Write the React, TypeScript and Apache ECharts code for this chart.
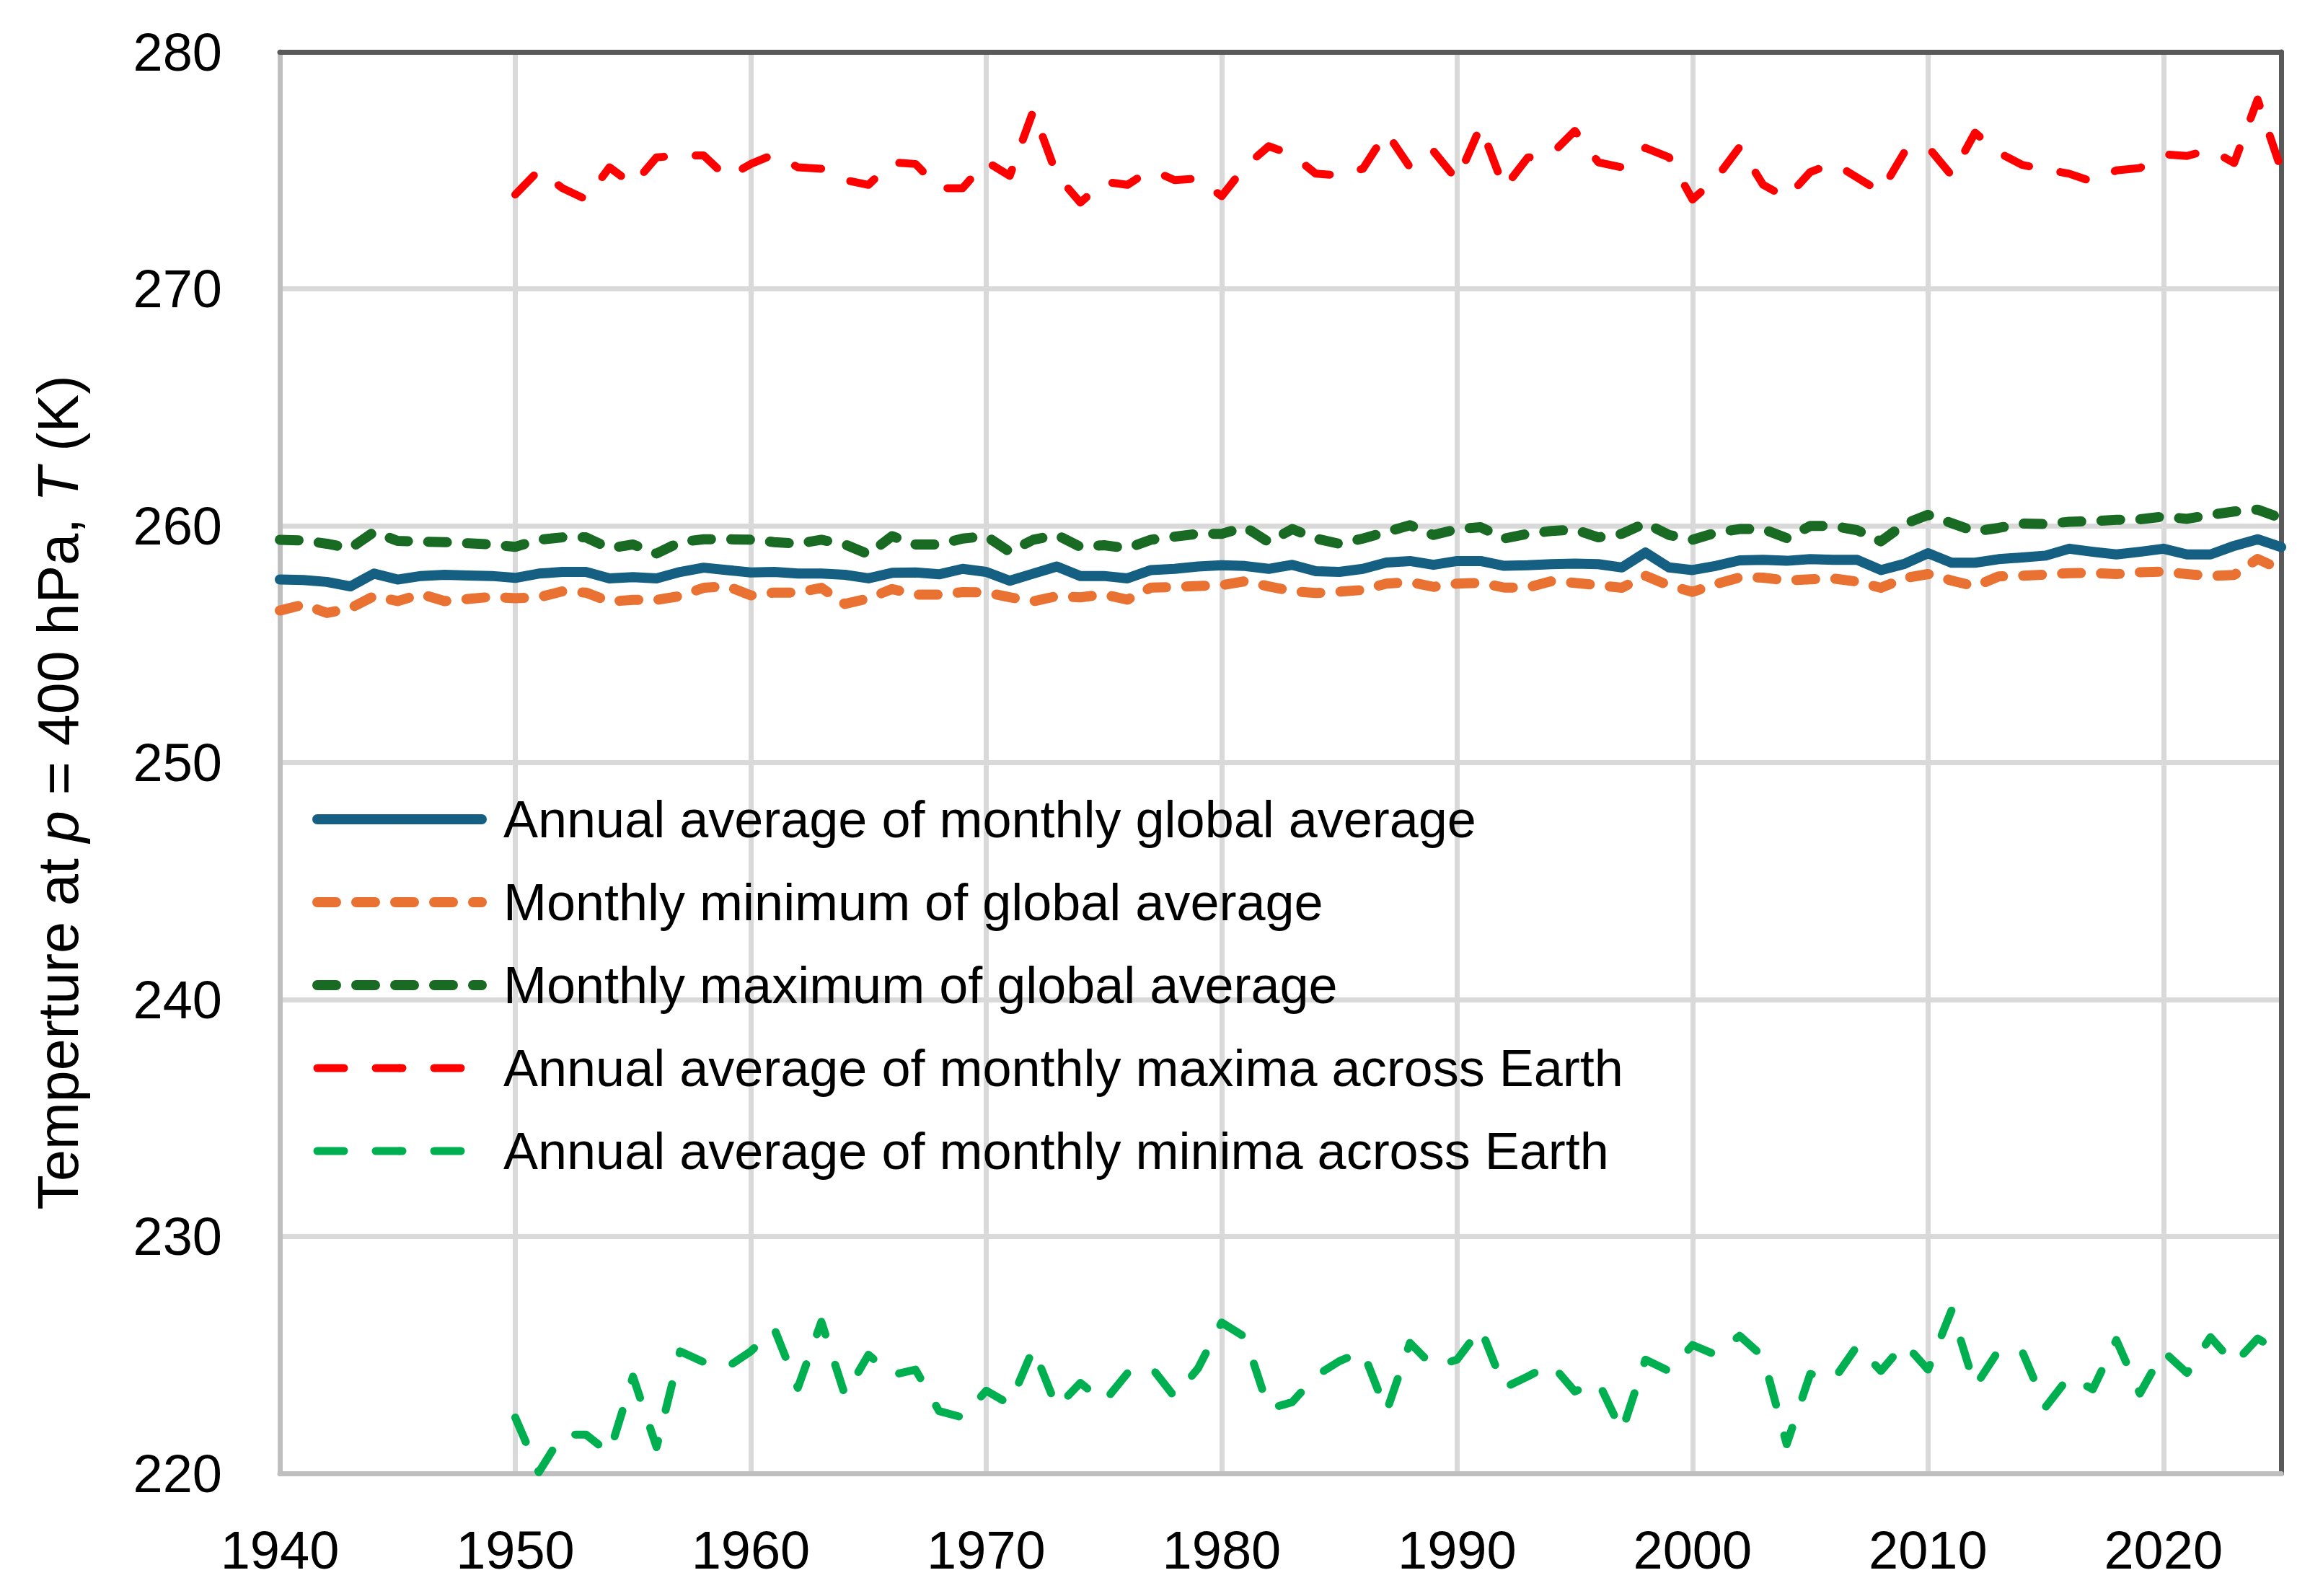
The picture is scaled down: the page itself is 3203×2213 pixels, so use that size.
import React, { useEffect, useRef } from "react";
import * as echarts from "echarts";

// Years covered by each group of series
const FIRST_YEAR_GLOBAL = 1940;
const FIRST_YEAR_EARTH = 1950;

// Annual average of monthly global average (K)
const globalAverage = [
  257.73, 257.71, 257.63, 257.44, 257.98, 257.73, 257.88, 257.93, 257.9, 257.88,
  257.8, 257.98, 258.05, 258.05, 257.78, 257.83, 257.78, 258.05, 258.23, 258.13,
  258.03, 258.05, 257.98, 257.98, 257.93, 257.78, 258.01, 258.03, 257.95, 258.18,
  258.05, 257.68, 257.98, 258.28, 257.88, 257.88, 257.78, 258.13, 258.18, 258.28,
  258.33, 258.3, 258.18, 258.35, 258.08, 258.05, 258.18, 258.45, 258.51, 258.35,
  258.51, 258.51, 258.31, 258.33, 258.38, 258.4, 258.38, 258.24, 258.87, 258.24,
  258.13, 258.31, 258.54, 258.56, 258.52, 258.59, 258.56, 258.56, 258.13, 258.39,
  258.84, 258.44, 258.44, 258.59, 258.66, 258.74, 259.03, 258.9, 258.79, 258.9,
  259.03, 258.79, 258.79, 259.15, 259.43, 259.1,
];

// Monthly minimum of global average (K)
const monthlyMinimum = [
  256.42, 256.67, 256.32, 256.52, 257.03, 256.82, 257.11, 256.82, 256.91, 257.0,
  256.94, 256.98, 257.23, 257.18, 256.8, 256.87, 256.87, 257.03, 257.38, 257.45,
  257.06, 257.18, 257.18, 257.38, 256.7, 256.93, 257.33, 257.09, 257.09, 257.2,
  257.18, 256.98, 256.81, 257.03, 256.98, 257.1, 256.88, 257.39, 257.41, 257.46,
  257.49, 257.66, 257.44, 257.24, 257.16, 257.22, 257.29, 257.56, 257.62, 257.42,
  257.56, 257.59, 257.39, 257.39, 257.66, 257.59, 257.49, 257.38, 257.89, 257.48,
  257.21, 257.54, 257.82, 257.81, 257.69, 257.74, 257.77, 257.64, 257.38, 257.79,
  257.96, 257.69, 257.44, 257.86, 257.89, 257.94, 258.0, 258.01, 257.96, 258.04,
  258.06, 257.96, 257.88, 257.92, 258.6, 258.14,
];

// Monthly maximum of global average (K)
const monthlyMaximum = [
  259.41, 259.38, 259.24, 259.05, 259.74, 259.36, 259.33, 259.31, 259.26, 259.21,
  259.11, 259.41, 259.51, 259.51, 259.05, 259.21, 258.83, 259.31, 259.43, 259.43,
  259.41, 259.31, 259.24, 259.41, 259.21, 258.8, 259.56, 259.21, 259.21, 259.46,
  259.56, 258.9, 259.41, 259.61, 259.11, 259.18, 259.05, 259.41, 259.54, 259.66,
  259.66, 259.94, 259.31, 259.86, 259.46, 259.24, 259.46, 259.74, 260.02, 259.61,
  259.86, 259.94, 259.46, 259.66, 259.78, 259.84, 259.51, 259.66, 260.11, 259.61,
  259.41, 259.71, 259.86, 259.86, 259.48, 259.99, 259.99, 259.81, 259.34, 260.07,
  260.46, 260.11, 259.76, 259.91, 260.09, 260.07, 260.17, 260.19, 260.25, 260.27,
  260.39, 260.29, 260.46, 260.6, 260.68, 260.32,
];

// Annual average of monthly maxima across Earth (K), from 1950
const earthMaxima = [
  273.98, 275.0, 274.25, 273.78, 275.13, 274.39, 275.55, 275.63, 275.63, 274.69,
  275.27, 275.68, 275.13, 275.07, 274.59, 274.39, 275.34, 275.27, 274.25, 274.25,
  275.38, 274.77, 277.51, 274.8, 273.64, 274.52, 274.39, 275.03, 274.59, 274.66,
  273.91, 275.16, 276.02, 275.66, 274.86, 274.79, 275.07, 276.6, 275.13, 275.81,
  274.59, 276.86, 274.25, 275.54, 275.68, 276.67, 275.34, 275.13, 275.95, 275.55,
  273.77, 274.66, 275.99, 274.39, 273.84, 274.93, 275.31, 274.69, 274.09, 275.77,
  275.99, 274.79, 276.59, 275.75, 275.23, 275.04, 274.86, 274.52, 275.0, 275.1,
  275.68, 275.61, 275.88, 275.31, 277.99, 275.04,
];

// Annual average of monthly minima across Earth (K), from 1950
const earthMinima = [
  222.36, 220.05, 221.64, 221.64, 220.85, 224.09, 221.11, 225.15, 224.7, 224.48,
  225.15, 226.11, 223.61, 226.4, 223.31, 225.01, 224.15, 224.38, 222.63, 222.36,
  223.49, 222.92, 225.27, 222.78, 223.82, 223.01, 224.23, 224.5, 223.23, 224.44,
  226.37, 225.75, 222.72, 223.01, 224.11, 224.74, 225.15, 222.6, 225.51, 224.5,
  224.8, 226.13, 223.61, 224.09, 224.62, 223.46, 223.85, 221.77, 224.8, 224.32,
  225.42, 225.0, 225.81, 224.92, 221.23, 224.2, 223.96, 225.39, 224.32, 225.49,
  224.38, 226.88, 223.67, 225.19, 225.15, 222.81, 224.09, 223.55, 225.63, 223.37,
  225.15, 224.24, 225.75, 224.62, 225.69, 225.1,
];

const seriesNames = [
  "Annual average of monthly global average",
  "Monthly minimum of global average",
  "Monthly maximum of global average",
  "Annual average of monthly maxima across Earth",
  "Annual average of monthly minima across Earth",
];

const X_MIN = 1940;
const X_MAX = 2025;
const Y_MIN = 220;
const Y_MAX = 280;

const FONT = "Liberation Sans";

const toPairs = (start: number, values: number[]) =>
  values.map((v, i) => [start + i, v]);

const styles = [
  { color: "#156082", width: 14, type: "solid" as any },
  { color: "#E97132", width: 14, type: [26, 28] },
  { color: "#196B24", width: 14, type: [26, 28] },
  { color: "#FF0000", width: 11, type: [37, 44] },
  { color: "#00B050", width: 11, type: [37, 44] },
];

export default function App() {
  const ref = useRef<HTMLDivElement>(null);

  useEffect(() => {
    if (!ref.current) return;
    const chart = echarts.init(ref.current, null, { renderer: "svg" });

    const dataSets = [
      toPairs(FIRST_YEAR_GLOBAL, globalAverage),
      toPairs(FIRST_YEAR_GLOBAL, monthlyMinimum),
      toPairs(FIRST_YEAR_GLOBAL, monthlyMaximum),
      toPairs(FIRST_YEAR_EARTH, earthMaxima),
      toPairs(FIRST_YEAR_EARTH, earthMinima),
    ];

    const borderAxis = {
      type: "value",
      min: X_MIN,
      max: X_MAX,
      axisLine: { show: true, onZero: false, lineStyle: { color: "#595959", width: 7 } },
      axisTick: { show: false },
      axisLabel: { show: false },
      splitLine: { show: false },
    };

    chart.setOption({
      animation: false,
      backgroundColor: "#ffffff",
      grid: {
        left: 388,
        top: 72,
        width: 2775,
        height: 1971,
        containLabel: false,
        outerBoundsMode: "none",
      },
      xAxis: [
        {
          type: "value",
          position: "bottom",
          min: X_MIN,
          max: X_MAX,
          interval: 10,
          axisLine: { show: true, onZero: false, lineStyle: { color: "#BFBFBF", width: 7 } },
          axisTick: { show: false },
          splitLine: { show: true, lineStyle: { color: "#D9D9D9", width: 7 } },
          axisLabel: {
            color: "#000",
            fontFamily: FONT,
            fontSize: 74,
            margin: 69,
            showMinLabel: true,
            showMaxLabel: false,
            formatter: (v: number) => String(v),
          },
        },
        { ...borderAxis, position: "top" },
      ],
      yAxis: [
        {
          type: "value",
          position: "left",
          min: Y_MIN,
          max: Y_MAX,
          interval: 10,
          axisLine: { show: true, onZero: false, lineStyle: { color: "#BFBFBF", width: 7 } },
          axisTick: { show: false },
          splitLine: { show: true, lineStyle: { color: "#D9D9D9", width: 7 } },
          axisLabel: {
            color: "#000",
            fontFamily: FONT,
            fontSize: 74,
            margin: 80,
          },
        },
        { ...borderAxis, min: Y_MIN, max: Y_MAX, position: "right" },
      ],
      legend: {
        show: true,
        orient: "vertical",
        left: 433,
        top: 1100,
        itemWidth: 228,
        itemHeight: 14,
        itemGap: 43,
        selectedMode: false,
        padding: 0,
        textStyle: {
          color: "#000",
          fontFamily: FONT,
          fontSize: 72,
          lineHeight: 72,
          padding: [0, 0, 0, 25],
        },
        data: seriesNames.map((name, i) => ({
          name,
          lineStyle: {
            color: styles[i].color,
            width: styles[i].width,
            type: styles[i].type,
            cap: "round",
          },
        })),
      },
      graphic: [
        {
          type: "text",
          x: 80,
          y: 1099,
          rotation: Math.PI / 2,
          style: {
            text: "{n|Temperture at }{i|p}{n| = 400 hPa, }{i|T}{n| (K)}",
            align: "center",
            verticalAlign: "middle",
            textAlign: "center",
            textVerticalAlign: "middle",
            fill: "#000",
            fontSize: 79,
            fontFamily: FONT,
            rich: {
              n: { fontSize: 79, fontFamily: FONT, fill: "#000" },
              i: { fontSize: 79, fontFamily: FONT, fontStyle: "italic", fill: "#000" },
            },
          },
        },
      ],
      series: seriesNames.map((name, i) => ({
        name,
        type: "line",
        xAxisIndex: 0,
        yAxisIndex: 0,
        data: dataSets[i],
        showSymbol: false,
        symbol: "none",
        smooth: false,
        silent: true,
        emphasis: { disabled: true },
        lineStyle: {
          color: styles[i].color,
          width: styles[i].width,
          type: styles[i].type,
          cap: "round",
          join: "round",
        },
        itemStyle: { color: styles[i].color },
        z: 2 + i,
      })),
    });

    return () => {
      chart.dispose();
    };
  }, []);

  return (
    <div
      ref={ref}
      style={{
        position: "fixed",
        left: 0,
        top: 0,
        width: 3203,
        height: 2213,
        background: "#fff",
      }}
    />
  );
}
